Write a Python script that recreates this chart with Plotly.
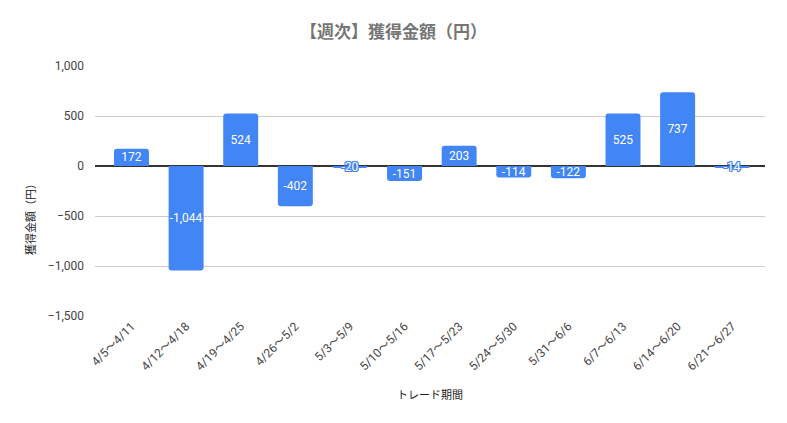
import plotly.graph_objects as go

categories = ["4/5～4/11", "4/12～4/18", "4/19～4/25", "4/26～5/2", "5/3～5/9",
              "5/10～5/16", "5/17～5/23", "5/24～5/30", "5/31～6/6", "6/7～6/13",
              "6/14～6/20", "6/21～6/27"]
values = [172, -1044, 524, -402, -20, -151, 203, -114, -122, 525, 737, -14]
y_ticks = [-1500, -1000, -500, 0, 500, 1000]

BLUE = "#4285F4"
FONT = "Roboto, 'Noto Sans CJK JP', sans-serif"
JP = "'Noto Sans CJK JP', sans-serif"
shadow = ", ".join(f"{dx}px {dy}px 0 {BLUE}" for dx in (-1, 0, 1) for dy in (-1, 0, 1) if dx or dy)

fig = go.Figure(go.Bar(
    x=list(range(len(categories))),
    y=values,
    marker=dict(color=BLUE, cornerradius=3, line=dict(width=0)),
    width=0.64,
    text=[f"{v:,}" for v in values],
    textposition="inside",
    insidetextanchor="middle",
    constraintext="none",
    textangle=0,
    textfont=dict(color="white", size=12, family=FONT, shadow=shadow),
    hoverinfo="skip",
))

fig.update_layout(
    width=787, height=423,
    margin=dict(l=95, r=22, t=66, b=107),
    paper_bgcolor="white", plot_bgcolor="white",
    showlegend=False,
    title=dict(text="【週次】獲得金額（円）", x=0.5, xanchor="center", y=0.925, yanchor="middle",
               font=dict(family=JP, size=17, color="#757575", weight="bold")),
    font=dict(family=FONT, color="#444"),
    annotations=[dict(text="獲得金額（円）", xref="paper", yref="paper", x=-0.097, y=0.396,
                      xanchor="center", yanchor="middle", textangle=-90, showarrow=False,
                      font=dict(size=11, color="#222", family=JP))],
)
fig.update_xaxes(
    tickmode="array", tickvals=list(range(len(categories))), ticktext=categories,
    range=[-0.668, 11.6], tickangle=-45, tickfont=dict(size=12, color="#444", family=FONT),
    showgrid=False, showline=False, zeroline=False, ticks="",
    title=dict(text="トレード期間", font=dict(size=11, color="#222", family=JP), standoff=18),
)
fig.update_yaxes(
    range=[-1500, 1000], tickmode="array", tickvals=y_ticks, tickformat=",",
    tickfont=dict(size=12, color="#444", family=FONT),
    showgrid=True, gridcolor="#cccccc", gridwidth=1,
    zeroline=True, zerolinecolor="#333333", zerolinewidth=1.5,
    showline=False, ticks="", ticklabelstandoff=10,
)

fig.write_html("out.html")
